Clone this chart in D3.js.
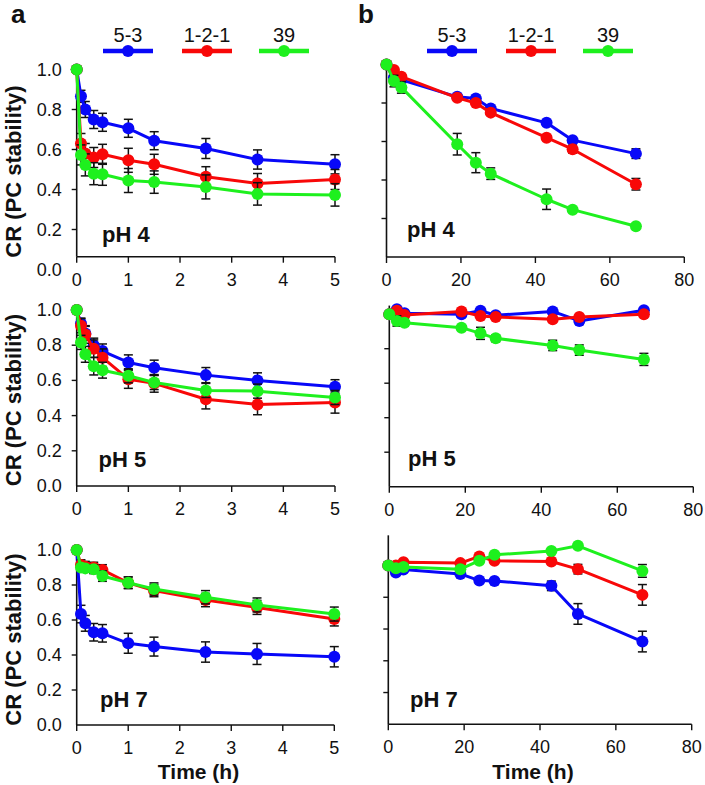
<!DOCTYPE html>
<html>
<head>
<meta charset="utf-8">
<script src="https://cdn.jsdelivr.net/npm/d3@7"></script>
<style>
  html, body { margin: 0; padding: 0; background: #fff; }
  svg { display: block; font-family: "Liberation Sans", Arial, Helvetica, sans-serif; }
</style>
</head>
<body>
<svg id="chart" width="705" height="785"></svg>
<script>
// ---------------- DATA ----------------
const seriesNames = ["5-3", "1-2-1", "39"];
const seriesColors = ["#0808f8", "#f80808", "#1ef01e"];

const timesA = [0, 0.083, 0.167, 0.33, 0.5, 1, 1.5, 2.5, 3.5, 5];   // h
const timesB = [0, 2, 4, 19, 24, 28, 43, 50, 67];                    // h

const xTicksA = [0, 1, 2, 3, 4, 5];
const xTicksB = [0, 20, 40, 60, 80];
const yTicks = [0, 0.2, 0.4, 0.6, 0.8, 1.0];

const phLabels = ["pH 4", "pH 5", "pH 7"];

// panel a (short term)
const a_pH4_53  = [1.0, 0.866, 0.80, 0.75, 0.736, 0.706, 0.644, 0.605, 0.55, 0.526];
const a_pH4_121 = [1.0, 0.63, 0.58, 0.56, 0.576, 0.546, 0.526, 0.464, 0.43, 0.45];
const a_pH4_39  = [1.0, 0.573, 0.523, 0.479, 0.476, 0.445, 0.437, 0.413, 0.378, 0.373];
const a_pH4_53_err  = [0, 0.03, 0.04, 0.045, 0.045, 0.045, 0.045, 0.05, 0.048, 0.048];
const a_pH4_121_err = [0, 0.05, 0.05, 0.05, 0.05, 0.06, 0.05, 0.05, 0.05, 0.05];
const a_pH4_39_err  = [0, 0.05, 0.055, 0.055, 0.055, 0.06, 0.056, 0.06, 0.056, 0.056];

const a_pH5_53  = [1.0, 0.924, 0.867, 0.80, 0.767, 0.702, 0.672, 0.63, 0.60, 0.564];
const a_pH5_121 = [1.0, 0.911, 0.861, 0.78, 0.729, 0.607, 0.583, 0.493, 0.463, 0.474];
const a_pH5_39  = [1.0, 0.816, 0.748, 0.681, 0.658, 0.626, 0.588, 0.543, 0.539, 0.503];
const a_pH5_53_err  = [0, 0.03, 0.04, 0.04, 0.04, 0.043, 0.043, 0.043, 0.043, 0.04];
const a_pH5_121_err = [0, 0.04, 0.05, 0.05, 0.05, 0.052, 0.05, 0.055, 0.058, 0.06];
const a_pH5_39_err  = [0, 0.04, 0.045, 0.05, 0.045, 0.04, 0.04, 0.04, 0.04, 0.04];

const a_pH7_53  = [1.0, 0.634, 0.581, 0.53, 0.524, 0.467, 0.448, 0.417, 0.406, 0.39];
const a_pH7_121 = [1.0, 0.914, 0.905, 0.90, 0.886, 0.813, 0.768, 0.714, 0.672, 0.606];
const a_pH7_39  = [1.0, 0.90, 0.895, 0.89, 0.851, 0.813, 0.777, 0.73, 0.686, 0.634];
const a_pH7_53_err  = [0, 0.05, 0.045, 0.05, 0.05, 0.057, 0.054, 0.058, 0.06, 0.058];
const a_pH7_121_err = [0, 0.03, 0.03, 0.03, 0.03, 0.033, 0.035, 0.038, 0.04, 0.04];
const a_pH7_39_err  = [0, 0.02, 0.02, 0.025, 0.03, 0.033, 0.035, 0.038, 0.04, 0.04];

// panel b (long term)
const b_pH4_53  = [1.0, 0.933, 0.92, 0.832, 0.824, 0.772, 0.697, 0.607, 0.537];
const b_pH4_121 = [1.0, 0.971, 0.937, 0.827, 0.80, 0.75, 0.62, 0.56, 0.378];
const b_pH4_39  = [1.0, 0.914, 0.881, 0.586, 0.49, 0.433, 0.30, 0.246, 0.16];
const b_pH4_53_err  = [0, 0.01, 0.01, 0.01, 0.01, 0.01, 0.01, 0.01, 0.025];
const b_pH4_121_err = [0, 0.01, 0.01, 0.01, 0.01, 0.01, 0.01, 0.02, 0.03];
const b_pH4_39_err  = [0, 0.03, 0.03, 0.056, 0.052, 0.03, 0.053, 0.01, 0.01];

const b_pH5_53  = [1.0, 1.029, 1.006, 1.0, 1.02, 0.994, 1.016, 0.961, 1.023];
const b_pH5_121 = [1.0, 1.02, 0.996, 1.016, 0.99, 0.984, 0.971, 0.984, 1.0];
const b_pH5_39  = [1.0, 0.961, 0.951, 0.922, 0.889, 0.86, 0.819, 0.792, 0.738];
const b_pH5_53_err  = [0, 0.01, 0.01, 0.01, 0.01, 0.01, 0.01, 0.02, 0.01];
const b_pH5_121_err = [0, 0.01, 0.01, 0.01, 0.01, 0.01, 0.01, 0.01, 0.01];
const b_pH5_39_err  = [0, 0.03, 0.02, 0.015, 0.035, 0.02, 0.03, 0.03, 0.035];

const b_pH7_53  = [1.0, 0.956, 0.975, 0.947, 0.905, 0.903, 0.872, 0.695, 0.521];
const b_pH7_121 = [1.0, 1.0, 1.02, 1.015, 1.057, 1.03, 1.025, 0.977, 0.815];
const b_pH7_39  = [1.0, 0.983, 0.99, 0.977, 1.03, 1.067, 1.092, 1.124, 0.966];
const b_pH7_53_err  = [0, 0.01, 0.01, 0.01, 0.01, 0.01, 0.03, 0.065, 0.065];
const b_pH7_121_err = [0, 0.01, 0.01, 0.01, 0.01, 0.01, 0.01, 0.03, 0.065];
const b_pH7_39_err  = [0, 0.01, 0.01, 0.01, 0.01, 0.01, 0.01, 0.01, 0.04];

// ---------------- LAYOUT ----------------
const panels = [
  { col: "a", times: timesA, xDomain: [0, 5], xTicks: xTicksA, x0: 76.7, x1: 335, y0: 269.5, y1: 69.5, axisY: 256.7, yTop: 1.0,
    ph: 0, phX: 102, phY: 242, vals: [a_pH4_53, a_pH4_121, a_pH4_39], errs: [a_pH4_53_err, a_pH4_121_err, a_pH4_39_err] },
  { col: "b", times: timesB, xDomain: [0, 80], xTicks: xTicksB, x0: 386.5, x1: 684.3, y0: 257, y1: 64.5, axisY: 257, yTop: 1.005,
    ph: 0, phX: 407, phY: 237, vals: [b_pH4_53, b_pH4_121, b_pH4_39], errs: [b_pH4_53_err, b_pH4_121_err, b_pH4_39_err] },
  { col: "a", times: timesA, xDomain: [0, 5], xTicks: xTicksA, x0: 76.7, x1: 335, y0: 486, y1: 310, axisY: 486, yTop: 1.0,
    ph: 1, phX: 98.5, phY: 467, vals: [a_pH5_53, a_pH5_121, a_pH5_39], errs: [a_pH5_53_err, a_pH5_121_err, a_pH5_39_err] },
  { col: "b", times: timesB, xDomain: [0, 80], xTicks: xTicksB, x0: 389.3, x1: 693.3, y0: 486.7, y1: 314.2, axisY: 486.7, yTop: 1.05,
    ph: 1, phX: 408, phY: 465.5, vals: [b_pH5_53, b_pH5_121, b_pH5_39], errs: [b_pH5_53_err, b_pH5_121_err, b_pH5_39_err] },
  { col: "a", times: timesA, xDomain: [0, 5], xTicks: xTicksA, x0: 76.7, x1: 334.3, y0: 725, y1: 550, axisY: 725, yTop: 1.0,
    ph: 2, phX: 100, phY: 707, vals: [a_pH7_53, a_pH7_121, a_pH7_39], errs: [a_pH7_53_err, a_pH7_121_err, a_pH7_39_err] },
  { col: "b", times: timesB, xDomain: [0, 80], xTicks: xTicksB, x0: 388.3, x1: 691.7, y0: 724.3, y1: 565.5, axisY: 724.3, yTop: 1.19,
    ph: 2, phX: 410, phY: 707, vals: [b_pH7_53, b_pH7_121, b_pH7_39], errs: [b_pH7_53_err, b_pH7_121_err, b_pH7_39_err] }
];

const svg = d3.select("#chart");
const R = 6;

panels.forEach((p, pi) => {
  const x = d3.scaleLinear().domain(p.xDomain).range([p.x0, p.x1]);
  const y = d3.scaleLinear().domain([0, 1]).range([p.y0, p.y1]);
  const g = svg.append("g");

  // y axis line
  g.append("line").attr("x1", p.x0).attr("x2", p.x0)
    .attr("y1", y(p.yTop)).attr("y2", p.axisY)
    .attr("stroke", "#111").attr("stroke-width", 1.6);
  yTicks.filter(v => y(v) < p.axisY - 2 && v <= p.yTop + 0.001).forEach(v => {
    g.append("line").attr("x1", p.x0 - 5).attr("x2", p.x0)
      .attr("y1", y(v)).attr("y2", y(v))
      .attr("stroke", "#111").attr("stroke-width", 1.4);
  });
  if (p.col === "a") {
    yTicks.forEach(v => {
      g.append("text").attr("x", p.x0 - 15).attr("y", y(v) + 6)
        .attr("text-anchor", "end").attr("font-size", 18).attr("fill", "#111")
        .text(d3.format(".1f")(v));
    });
  }
  // x axis
  g.append("line").attr("x1", p.x0).attr("x2", p.x1)
    .attr("y1", p.axisY).attr("y2", p.axisY)
    .attr("stroke", "#111").attr("stroke-width", 1.6);
  p.xTicks.forEach(v => {
    g.append("line").attr("x1", x(v)).attr("x2", x(v))
      .attr("y1", p.axisY).attr("y2", p.axisY + 6)
      .attr("stroke", "#111").attr("stroke-width", 1.4);
    g.append("text").attr("x", x(v)).attr("y", p.axisY + 29)
      .attr("text-anchor", "middle").attr("font-size", 18).attr("fill", "#111")
      .text(v);
  });

  // series
  p.vals.forEach((vals, si) => {
    const errs = p.errs[si];
    const pts = p.times.map((t, i) => ({ t, v: vals[i], e: errs[i] }));
    const eg = g.append("g").attr("stroke", "#111").attr("stroke-width", 1.5);
    pts.filter(d => d.e > 0.012).forEach(d => {
      eg.append("line").attr("x1", x(d.t)).attr("x2", x(d.t))
        .attr("y1", y(d.v - d.e)).attr("y2", y(d.v + d.e));
      [d.v - d.e, d.v + d.e].forEach(c => {
        eg.append("line").attr("x1", x(d.t) - 4.5).attr("x2", x(d.t) + 4.5)
          .attr("y1", y(c)).attr("y2", y(c));
      });
    });
    g.append("path").datum(pts)
      .attr("fill", "none").attr("stroke", seriesColors[si]).attr("stroke-width", 3)
      .attr("stroke-linejoin", "round")
      .attr("d", d3.line().x(d => x(d.t)).y(d => y(d.v)));
    g.selectAll(null).data(pts).enter().append("circle")
      .attr("cx", d => x(d.t)).attr("cy", d => y(d.v)).attr("r", R)
      .attr("fill", seriesColors[si]);
  });

  // pH label
  g.append("text").attr("x", p.phX).attr("y", p.phY)
    .attr("font-size", 22).attr("font-weight", "bold").attr("fill", "#111")
    .text(phLabels[p.ph]);

  if (p.col === "a") {
    const cy = (p.y0 + p.y1) / 2 + 2;
    g.append("text").attr("transform", `translate(21,${cy}) rotate(-90)`)
      .attr("text-anchor", "middle").attr("font-size", 22).attr("font-weight", "bold").attr("fill", "#111")
      .text("CR (PC stability)");
  }
  if (pi >= 4) {
    g.append("text").attr("x", (p.x0 + p.x1) / 2 - 7).attr("y", 779)
      .attr("text-anchor", "middle").attr("font-size", 21).attr("font-weight", "bold").attr("fill", "#111")
      .text("Time (h)");
  }
});

// panel letters
svg.append("text").attr("x", 11).attr("y", 23).attr("font-size", 26).attr("font-weight", "bold").attr("fill", "#111").text("a");
svg.append("text").attr("x", 358).attr("y", 23).attr("font-size", 26).attr("font-weight", "bold").attr("fill", "#111").text("b");

// legends
const legendStarts = [[103, 182, 259], [427, 506, 583]];
legendStarts.forEach(starts => {
  starts.forEach((sx, si) => {
    const cx = sx + 25;
    svg.append("line").attr("x1", sx).attr("x2", sx + 50).attr("y1", 51).attr("y2", 51)
      .attr("stroke", seriesColors[si]).attr("stroke-width", 4.5);
    svg.append("circle").attr("cx", cx).attr("cy", 51).attr("r", R).attr("fill", seriesColors[si]);
    svg.append("text").attr("x", cx).attr("y", 42).attr("text-anchor", "middle")
      .attr("font-size", 20).attr("fill", "#111").text(seriesNames[si]);
  });
});
</script>
</body>
</html>
